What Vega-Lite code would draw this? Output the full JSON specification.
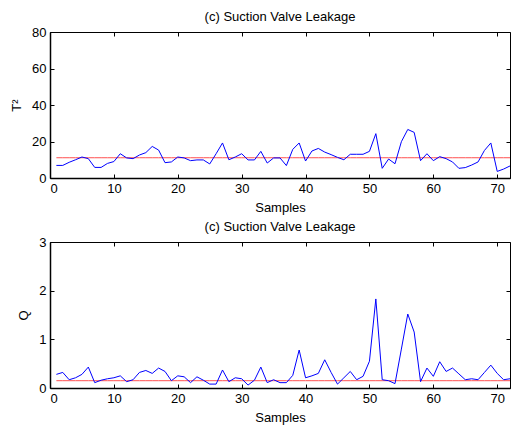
{
  "$schema": "https://vega.github.io/schema/vega-lite/v6.json",
  "padding": {"left": 10, "top": 10, "right": 0, "bottom": 0},
  "background": "white",
  "config": {
    "font": "Liberation Sans",
    "view": {"stroke": "black", "strokeWidth": 1},
    "axis": {"domainColor": "black", "domainWidth": 1.5, "tickColor": "black", "labelColor": "black", "titleColor": "black", "labelFont": "Liberation Sans", "titleFont": "Liberation Sans", "labelFontSize": 13, "titleFontSize": 13, "titleFontWeight": "normal", "grid": false, "tickSize": -4, "labelPadding": 8},
    "axisX": {"titlePadding": 6},
    "axisY": {"titlePadding": 8},
    "title": {"fontSize": 13, "fontWeight": "normal", "font": "Liberation Sans", "color": "black", "offset": 2},
    "concat": {"spacing": 5}
  },
  "datasets": {
    "pca": [
      {"sample": 1, "T2": 6.9, "Q": 0.28, "T2lim": 11.1, "Qlim": 0.15},
      {"sample": 2, "T2": 6.9, "Q": 0.32, "T2lim": 11.1, "Qlim": 0.15},
      {"sample": 3, "T2": 8.6, "Q": 0.17, "T2lim": 11.1, "Qlim": 0.15},
      {"sample": 4, "T2": 10.0, "Q": 0.21, "T2lim": 11.1, "Qlim": 0.15},
      {"sample": 5, "T2": 11.5, "Q": 0.28, "T2lim": 11.1, "Qlim": 0.15},
      {"sample": 6, "T2": 10.6, "Q": 0.43, "T2lim": 11.1, "Qlim": 0.15},
      {"sample": 7, "T2": 5.8, "Q": 0.11, "T2lim": 11.1, "Qlim": 0.15},
      {"sample": 8, "T2": 5.8, "Q": 0.16, "T2lim": 11.1, "Qlim": 0.15},
      {"sample": 9, "T2": 8.0, "Q": 0.19, "T2lim": 11.1, "Qlim": 0.15},
      {"sample": 10, "T2": 9.0, "Q": 0.21, "T2lim": 11.1, "Qlim": 0.15},
      {"sample": 11, "T2": 13.3, "Q": 0.25, "T2lim": 11.1, "Qlim": 0.15},
      {"sample": 12, "T2": 11.0, "Q": 0.13, "T2lim": 11.1, "Qlim": 0.15},
      {"sample": 13, "T2": 10.6, "Q": 0.17, "T2lim": 11.1, "Qlim": 0.15},
      {"sample": 14, "T2": 12.6, "Q": 0.32, "T2lim": 11.1, "Qlim": 0.15},
      {"sample": 15, "T2": 13.9, "Q": 0.36, "T2lim": 11.1, "Qlim": 0.15},
      {"sample": 16, "T2": 17.3, "Q": 0.30, "T2lim": 11.1, "Qlim": 0.15},
      {"sample": 17, "T2": 15.3, "Q": 0.41, "T2lim": 11.1, "Qlim": 0.15},
      {"sample": 18, "T2": 8.4, "Q": 0.34, "T2lim": 11.1, "Qlim": 0.15},
      {"sample": 19, "T2": 8.8, "Q": 0.15, "T2lim": 11.1, "Qlim": 0.15},
      {"sample": 20, "T2": 11.5, "Q": 0.25, "T2lim": 11.1, "Qlim": 0.15},
      {"sample": 21, "T2": 11.0, "Q": 0.23, "T2lim": 11.1, "Qlim": 0.15},
      {"sample": 22, "T2": 9.5, "Q": 0.11, "T2lim": 11.1, "Qlim": 0.15},
      {"sample": 23, "T2": 9.9, "Q": 0.23, "T2lim": 11.1, "Qlim": 0.15},
      {"sample": 24, "T2": 9.9, "Q": 0.16, "T2lim": 11.1, "Qlim": 0.15},
      {"sample": 25, "T2": 7.7, "Q": 0.08, "T2lim": 11.1, "Qlim": 0.15},
      {"sample": 26, "T2": 13.3, "Q": 0.08, "T2lim": 11.1, "Qlim": 0.15},
      {"sample": 27, "T2": 19.2, "Q": 0.37, "T2lim": 11.1, "Qlim": 0.15},
      {"sample": 28, "T2": 10.0, "Q": 0.13, "T2lim": 11.1, "Qlim": 0.15},
      {"sample": 29, "T2": 11.5, "Q": 0.21, "T2lim": 11.1, "Qlim": 0.15},
      {"sample": 30, "T2": 13.3, "Q": 0.19, "T2lim": 11.1, "Qlim": 0.15},
      {"sample": 31, "T2": 9.9, "Q": 0.06, "T2lim": 11.1, "Qlim": 0.15},
      {"sample": 32, "T2": 9.9, "Q": 0.16, "T2lim": 11.1, "Qlim": 0.15},
      {"sample": 33, "T2": 14.6, "Q": 0.43, "T2lim": 11.1, "Qlim": 0.15},
      {"sample": 34, "T2": 8.2, "Q": 0.11, "T2lim": 11.1, "Qlim": 0.15},
      {"sample": 35, "T2": 11.0, "Q": 0.17, "T2lim": 11.1, "Qlim": 0.15},
      {"sample": 36, "T2": 11.0, "Q": 0.11, "T2lim": 11.1, "Qlim": 0.15},
      {"sample": 37, "T2": 6.8, "Q": 0.11, "T2lim": 11.1, "Qlim": 0.15},
      {"sample": 38, "T2": 15.7, "Q": 0.26, "T2lim": 11.1, "Qlim": 0.15},
      {"sample": 39, "T2": 19.2, "Q": 0.78, "T2lim": 11.1, "Qlim": 0.15},
      {"sample": 40, "T2": 9.3, "Q": 0.21, "T2lim": 11.1, "Qlim": 0.15},
      {"sample": 41, "T2": 14.8, "Q": 0.25, "T2lim": 11.1, "Qlim": 0.15},
      {"sample": 42, "T2": 16.2, "Q": 0.30, "T2lim": 11.1, "Qlim": 0.15},
      {"sample": 43, "T2": 14.2, "Q": 0.58, "T2lim": 11.1, "Qlim": 0.15},
      {"sample": 44, "T2": 12.8, "Q": 0.32, "T2lim": 11.1, "Qlim": 0.15},
      {"sample": 45, "T2": 11.3, "Q": 0.08, "T2lim": 11.1, "Qlim": 0.15},
      {"sample": 46, "T2": 10.0, "Q": 0.21, "T2lim": 11.1, "Qlim": 0.15},
      {"sample": 47, "T2": 13.0, "Q": 0.34, "T2lim": 11.1, "Qlim": 0.15},
      {"sample": 48, "T2": 13.0, "Q": 0.17, "T2lim": 11.1, "Qlim": 0.15},
      {"sample": 49, "T2": 13.0, "Q": 0.24, "T2lim": 11.1, "Qlim": 0.15},
      {"sample": 50, "T2": 14.6, "Q": 0.55, "T2lim": 11.1, "Qlim": 0.15},
      {"sample": 51, "T2": 24.3, "Q": 1.83, "T2lim": 11.1, "Qlim": 0.15},
      {"sample": 52, "T2": 5.3, "Q": 0.17, "T2lim": 11.1, "Qlim": 0.15},
      {"sample": 53, "T2": 10.4, "Q": 0.15, "T2lim": 11.1, "Qlim": 0.15},
      {"sample": 54, "T2": 7.8, "Q": 0.09, "T2lim": 11.1, "Qlim": 0.15},
      {"sample": 55, "T2": 19.9, "Q": 0.80, "T2lim": 11.1, "Qlim": 0.15},
      {"sample": 56, "T2": 26.6, "Q": 1.52, "T2lim": 11.1, "Qlim": 0.15},
      {"sample": 57, "T2": 25.0, "Q": 1.15, "T2lim": 11.1, "Qlim": 0.15},
      {"sample": 58, "T2": 9.5, "Q": 0.13, "T2lim": 11.1, "Qlim": 0.15},
      {"sample": 59, "T2": 13.3, "Q": 0.41, "T2lim": 11.1, "Qlim": 0.15},
      {"sample": 60, "T2": 9.5, "Q": 0.24, "T2lim": 11.1, "Qlim": 0.15},
      {"sample": 61, "T2": 11.7, "Q": 0.54, "T2lim": 11.1, "Qlim": 0.15},
      {"sample": 62, "T2": 10.6, "Q": 0.34, "T2lim": 11.1, "Qlim": 0.15},
      {"sample": 63, "T2": 8.8, "Q": 0.41, "T2lim": 11.1, "Qlim": 0.15},
      {"sample": 64, "T2": 5.3, "Q": 0.29, "T2lim": 11.1, "Qlim": 0.15},
      {"sample": 65, "T2": 5.7, "Q": 0.17, "T2lim": 11.1, "Qlim": 0.15},
      {"sample": 66, "T2": 7.1, "Q": 0.19, "T2lim": 11.1, "Qlim": 0.15},
      {"sample": 67, "T2": 8.8, "Q": 0.17, "T2lim": 11.1, "Qlim": 0.15},
      {"sample": 68, "T2": 15.1, "Q": 0.32, "T2lim": 11.1, "Qlim": 0.15},
      {"sample": 69, "T2": 19.2, "Q": 0.47, "T2lim": 11.1, "Qlim": 0.15},
      {"sample": 70, "T2": 3.6, "Q": 0.30, "T2lim": 11.1, "Qlim": 0.15},
      {"sample": 71, "T2": 4.9, "Q": 0.17, "T2lim": 11.1, "Qlim": 0.15},
      {"sample": 72, "T2": 6.6, "Q": 0.19, "T2lim": 11.1, "Qlim": 0.15}
    ]
  },
  "vconcat": [
    {
      "width": 460,
      "height": 146,
      "title": "(c) Suction Valve Leakage",
      "data": {"name": "pca"},
      "layer": [
        {
          "mark": {"type": "line", "stroke": "#ff5050", "strokeWidth": 1},
          "encoding": {
            "x": {"field": "sample", "type": "quantitative", "axis": {"orient": "top", "labels": false, "title": null, "domain": false, "values": [0, 10, 20, 30, 40, 50, 60, 70]}},
            "y": {"field": "T2lim", "type": "quantitative", "axis": {"orient": "right", "labels": false, "title": null, "domain": false, "values": [0, 20, 40, 60, 80]}}
          }
        },
        {
          "mark": {"type": "line", "stroke": "#0000ff", "strokeWidth": 1},
          "encoding": {
            "x": {"field": "sample", "type": "quantitative", "scale": {"domain": [0, 72], "nice": false}, "axis": {"orient": "bottom", "title": "Samples", "values": [0, 10, 20, 30, 40, 50, 60, 70]}},
            "y": {"field": "T2", "type": "quantitative", "scale": {"domain": [0, 80], "nice": false}, "axis": {"orient": "left", "title": "T²", "values": [0, 20, 40, 60, 80]}}
          }
        }
      ],
      "resolve": {"axis": {"x": "independent", "y": "independent"}}
    },
    {
      "width": 460,
      "height": 146,
      "title": "(c) Suction Valve Leakage",
      "data": {"name": "pca"},
      "layer": [
        {
          "mark": {"type": "line", "stroke": "#ff5050", "strokeWidth": 1},
          "encoding": {
            "x": {"field": "sample", "type": "quantitative", "axis": {"orient": "top", "labels": false, "title": null, "domain": false, "values": [0, 10, 20, 30, 40, 50, 60, 70]}},
            "y": {"field": "Qlim", "type": "quantitative", "axis": {"orient": "right", "labels": false, "title": null, "domain": false, "values": [0, 1, 2, 3]}}
          }
        },
        {
          "mark": {"type": "line", "stroke": "#0000ff", "strokeWidth": 1},
          "encoding": {
            "x": {"field": "sample", "type": "quantitative", "scale": {"domain": [0, 72], "nice": false}, "axis": {"orient": "bottom", "title": "Samples", "values": [0, 10, 20, 30, 40, 50, 60, 70]}},
            "y": {"field": "Q", "type": "quantitative", "scale": {"domain": [0, 3], "nice": false}, "axis": {"orient": "left", "title": "Q", "values": [0, 1, 2, 3]}}
          }
        }
      ],
      "resolve": {"axis": {"x": "independent", "y": "independent"}}
    }
  ]
}
